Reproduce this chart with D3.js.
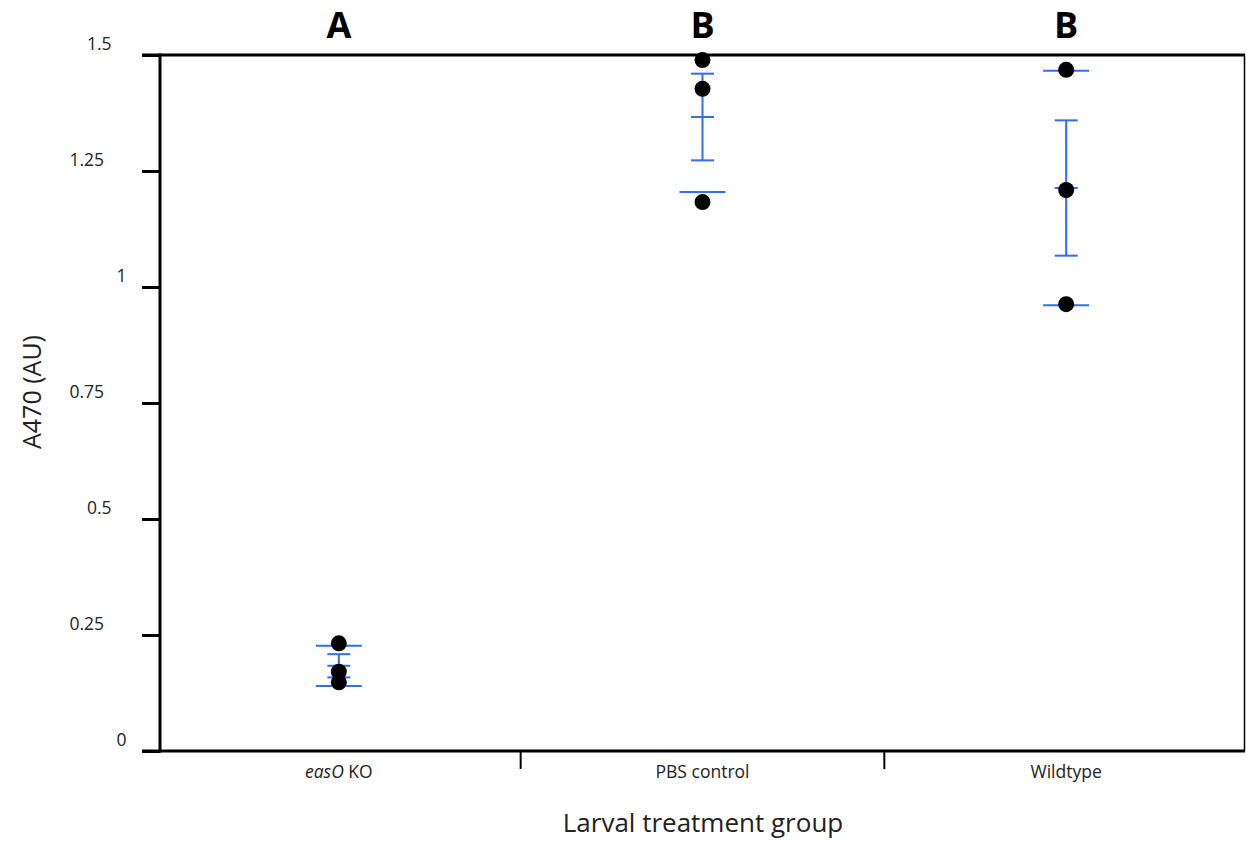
<!DOCTYPE html>
<html>
<head>
<meta charset="utf-8">
<script src="https://cdn.jsdelivr.net/npm/d3@7"></script>
<style>
  body { margin: 0; background: #fff; }
  svg { font-family: "Open Sans", "Noto Sans", sans-serif; }
</style>
</head>
<body>
<script>
//Groups on the x axis and the letters printed above them
var groups = ["easO KO", "PBS control", "Wildtype"];
var letters = ["A", "B", "B"];

//Replicate absorbance readings for each group
var easOValues = [0.232, 0.171, 0.148];
var pbsValues = [1.489, 1.427, 1.183];
var wildtypeValues = [1.468, 1.209, 0.963];

//Y axis ticks
var yTicks = [0, 0.25, 0.5, 0.75, 1, 1.25, 1.5];
var yTickLabels = ["0", "0.25", "0.5", "0.75", "1", "1.25", "1.5"];

var allValues = [easOValues, pbsValues, wildtypeValues];

//Dimensions
var width = 1247,
    height = 841,
    margin = {top: 55, right: 2, bottom: 90, left: 160};

var blue = "#2f6ff0";
var fontFam = '"Open Sans", "Noto Sans", sans-serif';

const svg = d3.select("body")
    .append("svg")
    .attr("width", width)
    .attr("height", height);

//Scales
const x = d3.scaleBand()
    .domain(groups)
    .range([157, 1248]);

const y = d3.scaleLinear()
    .domain([0, 1.5])
    .range([height - margin.bottom, margin.top]);

const plotRight = width - margin.right;

//Summary stats: mean, SD and SEM for each group
var stats = allValues.map(function(vals, i) {
    var m = d3.mean(vals);
    var sd = d3.deviation(vals);
    return {group: groups[i], mean: m, sd: sd, sem: sd / Math.sqrt(vals.length)};
});

//Clip for the error bars so the PBS SD line stays inside the frame
svg.append("clipPath")
    .attr("id", "plotClip")
    .append("rect")
    .attr("x", margin.left)
    .attr("y", margin.top)
    .attr("width", plotRight - margin.left)
    .attr("height", y(0) - margin.top);

//Y axis
const yAxis = svg.append("g")
    .attr("transform", `translate(${margin.left},0)`)
    .call(d3.axisLeft(y)
        .tickValues(yTicks)
        .tickFormat((d, i) => yTickLabels[i])
        .tickSize(18))
    .attr("font-family", fontFam)
    .attr("font-size", 17.5);

yAxis.select(".domain").remove();
yAxis.selectAll(".tick line")
    .attr("stroke", "#000")
    .attr("stroke-width", 3);
yAxis.selectAll(".tick text")
    .attr("fill", "#222")
    .attr("x", function(d, i) { return -(56 - (4 - yTickLabels[i].length) * 7.5); })
    .attr("dy", "-0.32em");

//Frame lines: left, top, right
svg.append("line")
    .attr("x1", margin.left).attr("x2", margin.left)
    .attr("y1", y(1.5) - 1.5).attr("y2", y(0) + 1.5)
    .attr("stroke", "#000").attr("stroke-width", 3);
svg.append("line")
    .attr("x1", 142).attr("x2", plotRight)
    .attr("y1", y(1.5)).attr("y2", y(1.5))
    .attr("stroke", "#000").attr("stroke-width", 3);
svg.append("line")
    .attr("x1", plotRight - 0.5).attr("x2", plotRight - 0.5)
    .attr("y1", y(1.5)).attr("y2", y(0))
    .attr("stroke", "#000").attr("stroke-width", 1.5);

//X axis
const xAxis = svg.append("g")
    .attr("transform", `translate(0,${y(0)})`)
    .call(d3.axisBottom(x).tickSize(0).tickPadding(15))
    .attr("font-family", fontFam)
    .attr("font-size", 17.5);
xAxis.select(".domain").remove();
xAxis.selectAll(".tick text")
    .attr("fill", "#222")
    .each(function(d) {
        if (d === "easO KO") {
            const t = d3.select(this).text("");
            t.append("tspan").style("font-style", "italic").text("easO");
            t.append("tspan").text(" KO");
        }
    });

svg.append("line")
    .attr("x1", 142).attr("x2", plotRight)
    .attr("y1", y(0)).attr("y2", y(0))
    .attr("stroke", "#000").attr("stroke-width", 3);

//Separator ticks between the groups
svg.selectAll(".sep")
    .data(groups.slice(1))
    .join("line")
    .attr("class", "sep")
    .attr("x1", d => x(d)).attr("x2", d => x(d))
    .attr("y1", y(0)).attr("y2", y(0) + 18)
    .attr("stroke", "#000").attr("stroke-width", 2);

//Error bars
const bars = svg.append("g").attr("clip-path", "url(#plotClip)");
const cx = d => x(d.group) + x.bandwidth() / 2;

bars.selectAll(".sem-line")
    .data(stats)
    .join("line")
    .attr("x1", cx).attr("x2", cx)
    .attr("y1", d => y(d.mean + d.sem))
    .attr("y2", d => y(d.mean - d.sem))
    .attr("stroke", blue).attr("stroke-width", 2);

//Narrow caps at mean-SEM, mean, mean+SEM
var narrow = [];
stats.forEach(function(d) {
    [d.mean - d.sem, d.mean, d.mean + d.sem].forEach(v => narrow.push({group: d.group, v: v}));
});
bars.selectAll(".cap")
    .data(narrow)
    .join("line")
    .attr("x1", d => cx(d) - 11.5).attr("x2", d => cx(d) + 11.5)
    .attr("y1", d => y(d.v)).attr("y2", d => y(d.v))
    .attr("stroke", blue).attr("stroke-width", 2);

//Wide lines at mean +/- SD
var wide = [];
stats.forEach(function(d) {
    [d.mean - d.sd, d.mean + d.sd].forEach(v => wide.push({group: d.group, v: v}));
});
bars.selectAll(".sd")
    .data(wide)
    .join("line")
    .attr("x1", d => cx(d) - 23).attr("x2", d => cx(d) + 23)
    .attr("y1", d => y(d.v)).attr("y2", d => y(d.v))
    .attr("stroke", blue).attr("stroke-width", 2);

//Points
var points = [];
allValues.forEach(function(vals, i) {
    vals.forEach(v => points.push({group: groups[i], v: v}));
});
svg.selectAll(".pt")
    .data(points)
    .join("circle")
    .attr("cx", cx)
    .attr("cy", d => y(d.v))
    .attr("r", 8)
    .attr("fill", "#000");

//Significance letters
svg.selectAll(".letter")
    .data(groups)
    .join("text")
    .attr("x", d => x(d) + x.bandwidth() / 2)
    .attr("y", 38)
    .attr("text-anchor", "middle")
    .style("font-size", "36px")
    .style("font-weight", "bold")
    .attr("fill", "#000")
    .text((d, i) => letters[i]);

//Axis titles
svg.append("text")
    .attr("x", 703)
    .attr("y", 832)
    .attr("text-anchor", "middle")
    .style("font-size", "26px")
    .attr("fill", "#222")
    .text("Larval treatment group");

svg.append("text")
    .attr("transform", `translate(41,392) rotate(-90)`)
    .attr("text-anchor", "middle")
    .style("font-size", "25px")
    .attr("fill", "#222")
    .text("A470 (AU)");
</script>
</body>
</html>
